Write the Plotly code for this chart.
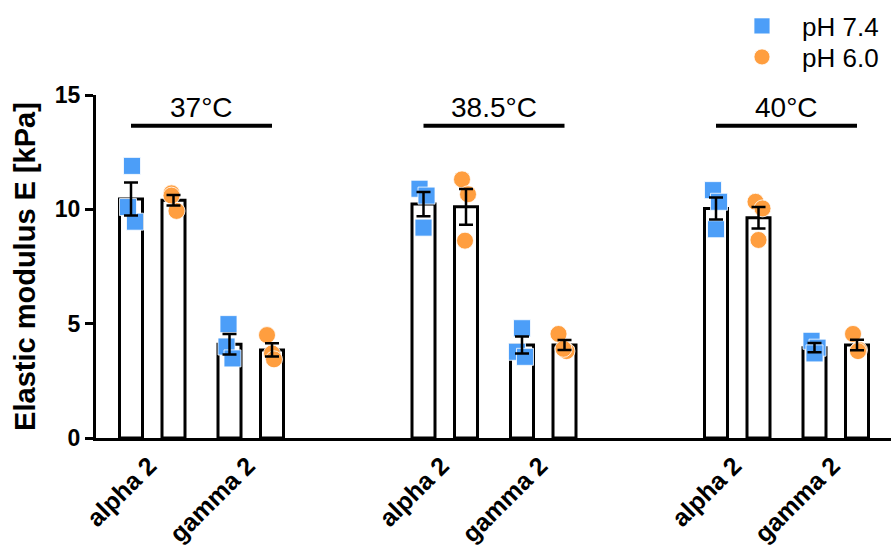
import plotly.graph_objects as go

# ---------------- data ----------------
temperatures = ["37°C", "38.5°C", "40°C"]
subunits = ["alpha 2", "gamma 2"]
series_names = ["pH 7.4", "pH 6.0"]

# cells ordered: (37 alpha, 37 gamma, 38.5 alpha, 38.5 gamma, 40 alpha, 40 gamma)
mean_ph74 = [10.45, 4.10, 10.23, 4.07, 10.04, 3.95]
mean_ph60 = [10.40, 3.85, 10.11, 4.07, 9.63, 4.07]
sem_ph74 = [0.72, 0.45, 0.53, 0.37, 0.48, 0.20]
sem_ph60 = [0.23, 0.29, 0.78, 0.22, 0.47, 0.23]

points_ph74 = [[11.9, 9.46, 10.1], [4.98, 4.0, 3.48], [10.9, 10.6, 9.2],
               [4.8, 3.77, 3.55], [10.84, 10.33, 9.13], [4.25, 3.95, 3.7]]
points_ph60 = [[10.7, 9.93, 10.6], [4.5, 3.7, 3.44], [11.31, 10.66, 8.63],
               [4.55, 3.8, 3.9], [10.33, 10.04, 8.66], [4.55, 3.85, 3.8]]

y_ticks = [0, 5, 10, 15]

# ---------------- layout / style ----------------
jitter_ph74 = [[1, 4, -3], [-1, -3, 3], [-4, 3, 0], [0, -5, 3], [-3, 3, 0], [-3, 3, 0]]
jitter_ph60 = [[-2, 3, -2], [-5, 0, 2], [-4, 2, -1], [-6, 2, -1], [-3, 4, 0], [-4, 2, 1]]

X0 = 35.0        # first bar centre (axis units)
SERIES = 42.5    # distance between pH bars within a subunit
PAIR = 98.5      # distance alpha -> gamma
GROUP = 292.5    # distance between temperatures
LABEL_SHIFT = -3  # rotated label anchor offset
BAR_W = 23
BLUE = "#4C9EF8"
ORANGE = "#FF9E3F"
FONT = "Arial, Liberation Sans, Helvetica, sans-serif"


def xpos(cell, s):
    g, p = divmod(cell, 2)
    return X0 + g * GROUP + p * PAIR + s * SERIES


n_cells = len(mean_ph74)
series = [
    (series_names[0], mean_ph74, sem_ph74, points_ph74, jitter_ph74, BLUE, "square", "legend"),
    (series_names[1], mean_ph60, sem_ph60, points_ph60, jitter_ph60, ORANGE, "circle", "legend2"),
]

fig = go.Figure()

# bars
for s, (name, means, sems, pts, jit, col, sym, leg) in enumerate(series):
    fig.add_trace(go.Bar(
        x=[xpos(c, s) for c in range(n_cells)], y=means, width=BAR_W,
        marker=dict(color="white", line=dict(color="black", width=3)),
        showlegend=False, hoverinfo="skip",
    ))

# points
for s, (name, means, sems, pts, jit, col, sym, leg) in enumerate(series):
    xs, ys = [], []
    for c in range(n_cells):
        for v, j in zip(pts[c], jit[c]):
            xs.append(xpos(c, s) + j)
            ys.append(v)
    fig.add_trace(go.Scatter(
        x=xs, y=ys, mode="markers", name=name, legend=leg,
        marker=dict(symbol=sym, size=17, color=col, line=dict(color="white", width=0.8)),
        cliponaxis=False,
    ))

# error bars
for s, (name, means, sems, pts, jit, col, sym, leg) in enumerate(series):
    fig.add_trace(go.Scatter(
        x=[xpos(c, s) for c in range(n_cells)], y=means, mode="markers",
        marker=dict(color="rgba(0,0,0,0)", size=1),
        error_y=dict(type="data", array=sems, color="black", thickness=2.5, width=7),
        showlegend=False, hoverinfo="skip", cliponaxis=False,
    ))

# temperature brackets
shapes, annotations = [], []
for g, t in enumerate(temperatures):
    x_left = xpos(2 * g, 0)
    x_right = xpos(2 * g + 1, 1)
    shapes.append(dict(type="line", xref="x", yref="y", x0=x_left, x1=x_right,
                       y0=13.65, y1=13.65, line=dict(color="black", width=4)))
    annotations.append(dict(x=(x_left + x_right) / 2, y=14.45, xref="x", yref="y",
                            text=t, showarrow=False, yanchor="middle",
                            font=dict(family=FONT, size=28, color="black")))

tickvals = [(xpos(c, 0) + xpos(c, 1)) / 2 + LABEL_SHIFT for c in range(n_cells)]
ticktext = [subunits[c % 2] for c in range(n_cells)]

legend_style = dict(x=0.7874, xanchor="left", yanchor="middle",
                    font=dict(family=FONT, size=26, color="black"),
                    bgcolor="rgba(0,0,0,0)", itemsizing="trace", itemwidth=70)

fig.update_layout(
    width=891, height=551,
    margin=dict(l=96, r=0, t=95, b=113, autoexpand=False),
    paper_bgcolor="white", plot_bgcolor="white",
    barmode="overlay",
    font=dict(family=FONT, color="black"),
    shapes=shapes, annotations=annotations,
    showlegend=True,
    legend=dict(y=1.2012, **legend_style),
    legend2=dict(y=1.1108, **legend_style),
    xaxis=dict(range=[0, 795], showgrid=False, zeroline=False, automargin=False,
               showline=True, linecolor="black", linewidth=3,
               ticks="", tickvals=tickvals, ticktext=ticktext, tickangle=-45,
               ticklabelstandoff=0,
               tickfont=dict(family=FONT, size=25, color="black", weight="bold")),
    yaxis=dict(range=[0, 15], tickvals=y_ticks, showgrid=False, zeroline=False,
               automargin=False,
               showline=True, linecolor="black", linewidth=3,
               ticks="outside", ticklen=8, tickwidth=3, tickcolor="black",
               tickfont=dict(family=FONT, size=23, color="black", weight="bold"),
               title=dict(text="Elastic modulus E [kPa]", standoff=11,
                          font=dict(family=FONT, size=29, color="black", weight="bold"))),
)

fig.write_html("out.html", config={"displayModeBar": False},
               post_script="document.body.style.margin='0';")
